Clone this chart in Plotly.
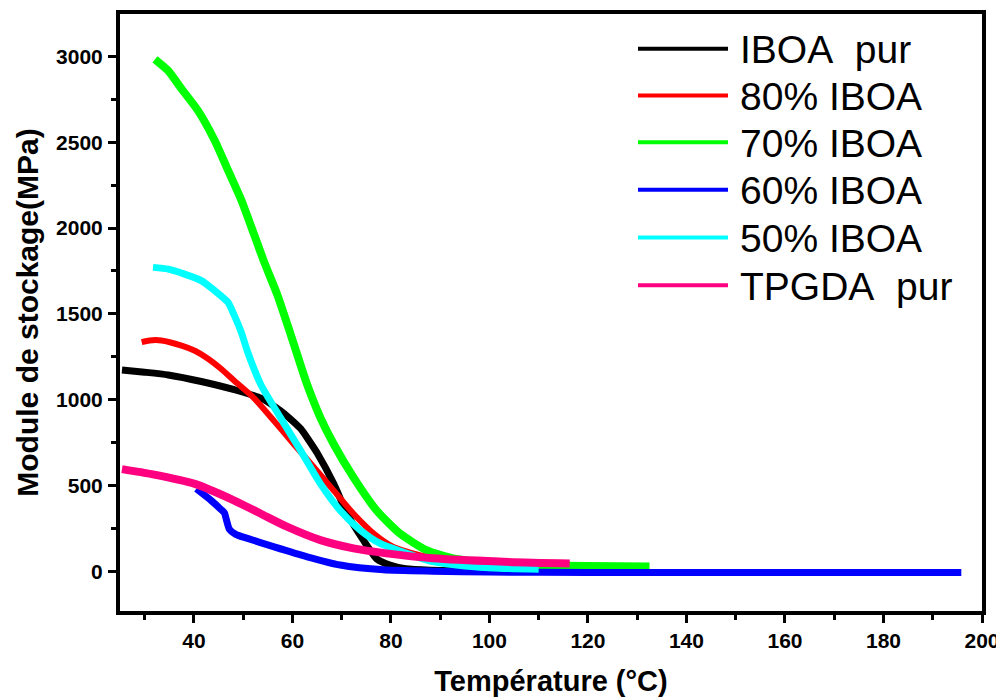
import plotly.graph_objects as go

# ---------------- data ----------------
series_names = ["IBOA  pur", "80% IBOA", "70% IBOA", "60% IBOA", "50% IBOA", "TPGDA  pur"]
series_colors = ["#000000", "#FF0000", "#00FF00", "#0000FF", "#00FFFF", "#FF0080"]
series_widths = [7, 6, 8, 7, 7, 8]

t_iboa = [25.4, 30, 34.8, 41.5, 48.2, 53.6, 57.6, 59.5, 61.7, 63.3, 65.0, 68.4, 71.1, 74.4, 77.2, 79.8, 83, 88, 95, 100]
v_iboa = [1173, 1160, 1144, 1106, 1058, 1009, 935, 890, 830, 765, 690, 509, 335, 181, 70, 36, 14, 6, 4, 3]

t_80 = [29.4, 31, 33.4, 37.5, 40.2, 42.8, 45.5, 48.2, 52.2, 56.3, 60.3, 64.4, 68.4, 72.4, 76.5, 80.5, 85.8, 92.5, 100, 105]
v_80 = [1335, 1345, 1345, 1315, 1285, 1240, 1180, 1110, 1009, 875, 740, 605, 470, 335, 220, 142, 94, 65, 45, 40]

t_70 = [32.1, 34.8, 37.5, 40.8, 44.2, 46.9, 49.6, 51.6, 54.3, 57.0, 59.7, 63.0, 65.7, 68.4, 72.4, 77.1, 81.8, 87.2, 92.6, 102, 110, 120, 132.5]
v_70 = [2984, 2917, 2811, 2686, 2512, 2339, 2165, 2012, 1800, 1607, 1376, 1087, 894, 740, 547, 354, 220, 123, 75, 46, 35, 30, 28]

t_60 = [40.5, 43.5, 45.5, 46.2, 46.6, 47.2, 48.5, 50.9, 56.3, 63.0, 69.7, 78.5, 88.5, 100, 120, 150, 180, 195.8]
v_60 = [480, 412, 360, 340, 300, 245, 215, 191, 142, 84, 36, 8, 0, -5, -8, -8, -8, -8]

t_50 = [31.7, 34.8, 38.1, 41.5, 44.2, 46.9, 48.2, 49.6, 50.9, 53.6, 57.6, 61.7, 65.7, 69.7, 73.8, 77.8, 83.2, 88.5, 95, 102, 110]
v_50 = [1771, 1761, 1732, 1694, 1636, 1568, 1491, 1395, 1279, 1087, 894, 701, 509, 354, 239, 162, 104, 56, 30, 17, 12]

t_tpgda = [25.4, 31.4, 40.2, 48.2, 53.6, 59.0, 65.7, 72.4, 79.1, 88.5, 102, 116.3]
v_tpgda = [595, 566, 509, 412, 335, 258, 181, 133, 104, 75, 56, 45]

x_tick_vals = [40, 60, 80, 100, 120, 140, 160, 180, 200]
y_tick_vals = [0, 500, 1000, 1500, 2000, 2500, 3000]

series_t = [t_iboa, t_80, t_70, t_60, t_50, t_tpgda]
series_v = [v_iboa, v_80, v_70, v_60, v_50, v_tpgda]

# ---------------- figure ----------------
fig = go.Figure()
for name, col, w, t, v in zip(series_names, series_colors, series_widths, series_t, series_v):
    fig.add_trace(go.Scatter(
        x=t, y=v, mode="lines", name=name,
        line=dict(color=col, width=w, shape="spline", smoothing=0.6),
        showlegend=False,
    ))

# page offset (browser body margin) and target plot box in screen pixels
OFF = 8
W, H = 1004 - OFF, 700 - OFF
plot_l, plot_r, plot_t, plot_b = 120, 982, 10, 611

def px_x(p):
    return (p - plot_l) / (plot_r - plot_l)
def px_y(p):
    return (plot_b - p) / (plot_b - plot_t)

# manual legend (long line samples like the original)
row_y = [45, 92, 139, 187, 235, 283]
shapes = []
annotations = []
for name, col, ry in zip(series_names, series_colors, row_y):
    shapes.append(dict(type="line", xref="paper", yref="paper",
                       x0=px_x(638), x1=px_x(728), y0=px_y(ry), y1=px_y(ry),
                       line=dict(color=col, width=4)))
    annotations.append(dict(xref="paper", yref="paper", x=px_x(738), y=px_y(ry + 1),
                            xanchor="left", yanchor="middle", showarrow=False,
                            text=name.replace("  ", "&nbsp; "),
                            font=dict(family="Liberation Sans, Arial", size=39, color="black")))

fig.update_layout(
    width=W, height=H,
    margin=dict(l=plot_l - OFF, r=1004 - plot_r, t=plot_t - OFF, b=700 - plot_b),
    paper_bgcolor="white", plot_bgcolor="white",
    shapes=shapes, annotations=annotations,
    showlegend=False,
)
fig.update_xaxes(
    range=[25, 200], tickvals=x_tick_vals, ticktext=[str(v) for v in x_tick_vals],
    showgrid=False, zeroline=False,
    showline=True, linewidth=4, linecolor="black", mirror=True,
    ticks="outside", ticklen=8, tickwidth=3, tickcolor="black",
    minor=dict(ticks="outside", ticklen=5, tickwidth=3, tickcolor="black", tick0=30, dtick=20),
    tickfont=dict(family="Liberation Sans, Arial", size=21, color="black", weight="bold"),
    ticklabelstandoff=0,
    title=dict(text="Température (°C)", standoff=20,
               font=dict(family="Liberation Sans, Arial", size=29, color="black", weight="bold")),
)
fig.update_yaxes(
    range=[-232, 3248], tickvals=y_tick_vals, ticktext=[str(v) for v in y_tick_vals],
    showgrid=False, zeroline=False,
    showline=True, linewidth=4, linecolor="black", mirror=True,
    ticks="outside", ticklen=8, tickwidth=3, tickcolor="black",
    minor=dict(ticks="outside", ticklen=5, tickwidth=3, tickcolor="black", tick0=250, dtick=500),
    tickfont=dict(family="Liberation Sans, Arial", size=21, color="black", weight="bold"),
    ticklabelstandoff=1,
    title=dict(text="Module de stockage(MPa)", standoff=10,
               font=dict(family="Liberation Sans, Arial", size=30, color="black", weight="bold")),
)

fig.write_html("out.html")
